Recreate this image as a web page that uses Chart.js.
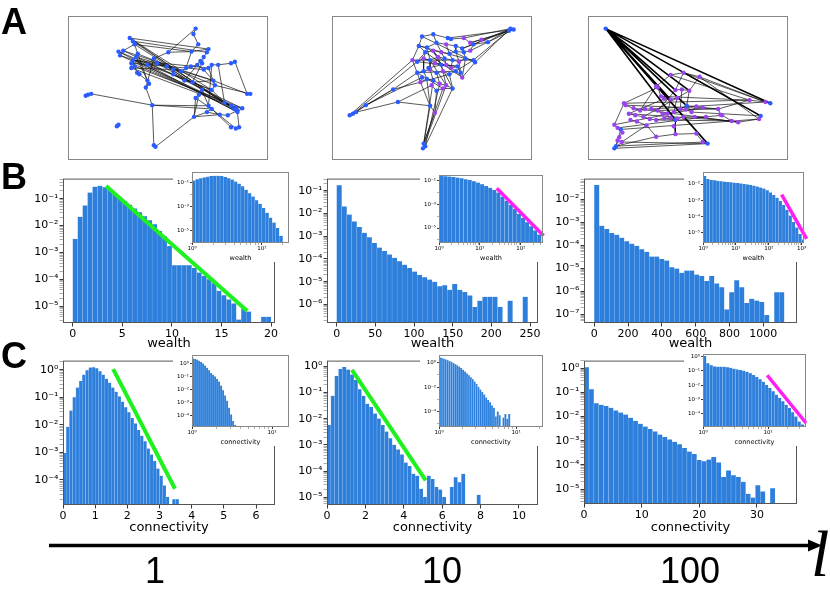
<!DOCTYPE html>
<html>
<head>
<meta charset="utf-8">
<script src="https://cdn.jsdelivr.net/npm/chart.js@4.4.0/dist/chart.umd.min.js"></script>
<style>
  body { margin: 0; width: 830px; height: 592px; background: #fff; position: relative; overflow: hidden; }
  canvas { position: absolute; z-index: 1; }
  canvas.inset { background: #fff; z-index: 2; }
  canvas.overlay { z-index: 3; }
  svg { position: absolute; left: 0; top: 0; z-index: 4; }
</style>
</head>
<body>
<svg width="830" height="592" viewBox="0 0 830 592">
  <g font-family="Liberation Sans, Arial, sans-serif" font-weight="bold" font-size="36">
    <text x="1" y="34">A</text>
    <text x="1" y="189">B</text>
    <text x="1" y="368">C</text>
  </g>
  <line x1="49" y1="545.5" x2="811" y2="545.5" stroke="#000" stroke-width="3.5"/>
  <polygon points="808,539.5 822,545.5 808,551.5" fill="#000"/>
  <g font-family="Liberation Sans, Arial, sans-serif" font-size="36" text-anchor="middle">
    <text x="155" y="583">1</text>
    <text x="442" y="583">10</text>
    <text x="690" y="583">100</text>
  </g>
  <text x="811" y="576" font-family="Liberation Serif, serif" font-style="italic" font-size="66">l</text>
</svg>
<script>
// ---- row B: wealth histograms (bin centres, log10 of frequency) ----
const b1Bins = [0.25, 0.75, 1.25, 1.75, 2.25, 2.75, 3.25, 3.75, 4.25, 4.75, 5.25, 5.75, 6.25, 6.75, 7.25, 7.75, 8.25, 8.75, 9.25, 9.75,
  10.25, 10.75, 11.25, 11.75, 12.25, 12.75, 13.25, 13.75, 14.25, 14.75, 15.25, 15.75, 16.25, 16.75, 17.25, 17.75, 18.25, 18.75, 19.25, 19.75];
const b1LogP = [-2.5, -1.67, -1.25, -0.77, -0.55, -0.52, -0.57, -0.66, -0.8, -0.94, -1.08, -1.22, -1.36, -1.5, -1.65, -1.8, -1.95, -2.2, -2.4, -2.76,
  -3.48, -3.48, -3.48, -3.48, -3.58, -3.75, -3.88, -4.0, -4.15, -4.43, -4.6, -4.75, -4.9, -5.5, -5.1, -5.2, null, null, -5.4, -5.4];
const b1FitX = [3.36, 17.6];
const b1FitLogY = [-0.53, -5.18];
const b1XTicks = [0, 5, 10, 15, 20];
const b1YExp = [-5, -4, -3, -2, -1];

const b2Bins = [3.25, 9.75, 16.25, 22.75, 29.25, 35.75, 42.25, 48.75, 55.25, 61.75, 68.25, 74.75, 81.25, 87.75, 94.25, 100.75, 107.25, 113.75, 120.25, 126.75,
  133.25, 139.75, 146.25, 152.75, 159.25, 165.75, 172.25, 178.75, 185.25, 191.75, 198.25, 204.75, 211.25, 217.75, 224.25, 230.75, 237.25, 243.75, 250.25];
const b2LogP = [-0.76, -1.69, -2.05, -2.35, -2.6, -2.85, -3.05, -3.3, -3.5, -3.65, -3.8, -3.95, -4.1, -4.25, -4.4, -4.55, -4.7, -4.8, -4.9, -5.0,
  -5.2, -5.15, -5.35, -5.1, -5.35, -5.45, -5.6, -6.11, -5.83, -5.66, -5.66, -5.66, -6.11, null, -5.83, null, null, -5.66, null];
const b2XTicks = [0, 50, 100, 150, 200, 250];
const b2YExp = [-6, -5, -4, -3, -2, -1];

const b3Bins = [14.8, 44.4, 74, 103.6, 133.2, 162.8, 192.4, 222, 251.6, 281.2, 310.8, 340.4, 370, 399.6, 429.2, 458.8, 488.4, 518, 547.6,
  577.2, 606.8, 636.4, 666, 695.6, 725.2, 754.8, 784.4, 814, 843.6, 873.2, 902.8, 932.4, 962, 991.6, 1021.2, 1050.8, 1080.4, 1110];
const b3LogP = [-1.39, -3.16, -3.3, -3.48, -3.55, -3.68, -3.84, -3.94, -4.03, -4.18, -4.29, -4.5, -4.5, -4.61, -4.67, -4.97, -5.02, -5.21, -5.11,
  -5.11, -5.28, -5.35, -5.56, -5.35, -5.67, -5.84, -6.8, -6.05, -5.53, -5.84, -6.52, -6.34, -6.41, -6.48, -7.04, null, -6.05, -6.05];
const b3XTicks = [0, 200, 400, 600, 800, 1000];
const b3YExp = [-7, -6, -5, -4, -3, -2];

// insets of row B (log10 of bin centre, log10 of frequency)
const b1InLogX = [0.025, 0.075, 0.125, 0.175, 0.225, 0.275, 0.325, 0.375, 0.425, 0.475, 0.525, 0.575, 0.625,
  0.675, 0.725, 0.775, 0.825, 0.875, 0.925, 0.975, 1.025, 1.075, 1.125, 1.175, 1.225, 1.275];
const b1InLogP = [-0.82, -0.72, -0.63, -0.56, -0.5, -0.45, -0.42, -0.42, -0.45, -0.52, -0.62, -0.74, -0.9,
  -1.08, -1.3, -1.58, -1.88, -2.15, -2.45, -2.75, -3.1, -3.5, -3.9, -4.3, -4.75, -5.4];
const b1InXExp = [0, 1];
const b1InYExp = [-5, -3, -1];

const b2InLogX = [0.05, 0.15, 0.25, 0.35, 0.45, 0.55, 0.65, 0.75, 0.85, 0.95, 1.05, 1.15, 1.25,
  1.35, 1.45, 1.55, 1.65, 1.75, 1.85, 1.95, 2.05, 2.15, 2.25, 2.35, 2.45];
const b2InLogP = [-0.6, -0.62, -0.65, -0.69, -0.74, -0.8, -0.87, -0.95, -1.05, -1.15, -1.3, -1.45, -1.6,
  -1.78, -2.0, -2.35, -2.7, -3.05, -3.4, -3.8, -4.15, -4.5, -4.85, -5.2, -5.55];
const b2InFitLogX = [1.41, 2.555];
const b2InFitLogY = [-1.64, -5.65];
const b2InXExp = [0, 1, 2];
const b2InYExp = [-5, -3, -1];

const b3InLogX = [0.05, 0.15, 0.25, 0.35, 0.45, 0.55, 0.65, 0.75, 0.85, 0.95, 1.05, 1.15, 1.25, 1.35, 1.45, 1.55,
  1.65, 1.75, 1.85, 1.95, 2.05, 2.15, 2.25, 2.35, 2.45, 2.55, 2.65, 2.75, 2.85, 2.95, 3.05];
const b3InLogP = [-1.5, -1.68, -1.74, -1.77, -1.8, -1.83, -1.85, -1.87, -1.89, -1.91, -1.93, -1.96, -1.99, -2.02, -2.06, -2.1,
  -2.15, -2.21, -2.28, -2.38, -2.52, -2.68, -2.85, -3.05, -3.3, -3.6, -3.95, -4.35, -4.7, -5.1, -5.45];
const b3InFitLogX = [2.39, 3.15];
const b3InFitLogY = [-2.66, -5.41];
const b3InXExp = [0, 1, 2, 3];
const b3InYExp = [-5, -4, -3, -2];

// ---- row C: connectivity histograms ----
const c1Bins = [0.05, 0.15, 0.25, 0.35, 0.45, 0.55, 0.65, 0.75, 0.85, 0.95, 1.05, 1.15, 1.25, 1.35, 1.45, 1.55, 1.65, 1.75,
  1.85, 1.95, 2.05, 2.15, 2.25, 2.35, 2.45, 2.55, 2.65, 2.75, 2.85, 2.95, 3.05, 3.15, 3.25, 3.35, 3.45, 3.55];
const c1LogP = [-3.02, -2.07, -1.48, -1.0, -0.65, -0.41, -0.18, -0.02, 0.08, 0.09, 0.05, -0.06, -0.18, -0.33, -0.47, -0.65, -0.8, -0.97,
  -1.16, -1.36, -1.54, -1.75, -1.95, -2.19, -2.4, -2.6, -2.86, -3.08, -3.31, -3.59, -3.85, -4.2, -4.62, null, -4.7, -4.7];
const c1FitX = [1.56, 3.48];
const c1FitLogY = [0.02, -4.32];
const c1XTicks = [0, 1, 2, 3, 4, 5, 6];
const c1YExp = [-4, -3, -2, -1, 0];

const c2Bins = [0.1, 0.3, 0.5, 0.7, 0.9, 1.1, 1.3, 1.5, 1.7, 1.9, 2.1, 2.3, 2.5, 2.7, 2.9, 3.1, 3.3, 3.5, 3.7, 3.9,
  4.1, 4.3, 4.5, 4.7, 4.9, 5.1, 5.3, 5.5, 5.7, 5.9, 6.1, 6.3, 6.5, 6.7, 6.9, 7.1, 7.3, 7.5, 7.7, 7.9];
const c2LogP = [-2.24, -1.12, -0.37, -0.1, -0.02, -0.12, -0.31, -0.52, -0.87, -1.12, -1.43, -1.55, -1.8, -1.99, -2.24, -2.49, -2.74, -2.99, -3.17, -3.36,
  -3.67, -3.8, -4.1, -4.17, -4.67, -4.98, -4.17, -4.3, -4.6, -4.7, -4.98, null, -4.6, -4.23, -4.42, -4.1, null, null, null, -4.9];
const c2FitX = [1.3, 5.14];
const c2FitLogY = [-0.13, -4.35];
const c2XTicks = [0, 2, 4, 6, 8, 10];
const c2YExp = [-5, -4, -3, -2, -1, 0];

const c3Bins = [0.425, 1.275, 2.125, 2.975, 3.825, 4.675, 5.525, 6.375, 7.225, 8.075, 8.925, 9.775, 10.625, 11.475, 12.325, 13.175, 14.025,
  14.875, 15.725, 16.575, 17.425, 18.275, 19.125, 19.975, 20.825, 21.675, 22.525, 23.375, 24.225, 25.075, 25.925, 26.775, 27.625,
  28.475, 29.325, 30.175, 31.025, 31.875, 32.725];
const c3LogP = [0.04, -0.87, -1.45, -1.52, -1.57, -1.64, -1.75, -1.84, -1.92, -2.05, -2.18, -2.3, -2.42, -2.52, -2.62, -2.75, -2.85,
  -2.95, -3.05, -3.15, -3.3, -3.45, -3.55, -3.8, -3.85, -3.78, -3.68, -3.9, -4.5, -4.23, -4.43, -4.5, -4.7,
  -5.2, -5.35, -4.84, -5.1, null, -4.97];
const c3XTicks = [0, 10, 20, 30];
const c3YExp = [-5, -4, -3, -2, -1, 0];

const c1InLogX = [0.0125, 0.0375, 0.0625, 0.0875, 0.1125, 0.1375, 0.1625, 0.1875, 0.2125, 0.2375, 0.2625,
  0.2875, 0.3125, 0.3375, 0.3625, 0.3875, 0.4125, 0.4375, 0.4625, 0.4875, 0.5125, 0.5375];
const c1InLogP = [0.37, 0.33, 0.28, 0.2, 0.1, -0.02, -0.17, -0.34, -0.53, -0.74, -0.87,
  -1.0, -1.2, -1.4, -1.7, -2.05, -2.45, -2.85, -3.4, -3.9, -4.4, -4.7];
const c1InXExp = [0, 1];
const c1InYExp = [-4, -3, -2, -1, 0];

const c2InLogX = [0.0125, 0.0375, 0.0625, 0.0875, 0.1125, 0.1375, 0.1625, 0.1875, 0.2125, 0.2375, 0.2625, 0.2875, 0.3125,
  0.3375, 0.3625, 0.3875, 0.4125, 0.4375, 0.4625, 0.4875, 0.5125, 0.5375, 0.5625, 0.5875, 0.6125, 0.6375, 0.6625,
  0.6875, 0.7125, 0.7375, 0.7625, 0.7875, 0.8125, 0.8375, 0.8625, 0.8875, 0.9125];
const c2InLogP = [0.43, 0.38, 0.33, 0.27, 0.2, 0.13, 0.05, -0.03, -0.12, -0.21, -0.31, -0.43, -0.57,
  -0.72, -0.88, -1.03, -1.19, -1.36, -1.55, -1.75, -1.97, -2.2, -2.4, -2.6, -2.85, -3.05, -3.25,
  -3.5, -3.7, -4.4, -4.0, -4.3, null, -4.5, -4.2, -4.6, -4.2];
const c2InXExp = [0, 1];
const c2InYExp = [-4, -2, 0];

const c3InLogX = [0.025, 0.075, 0.125, 0.175, 0.225, 0.275, 0.325, 0.375, 0.425, 0.475, 0.525, 0.575, 0.625, 0.675, 0.725, 0.775,
  0.825, 0.875, 0.925, 0.975, 1.025, 1.075, 1.125, 1.175, 1.225, 1.275, 1.325, 1.375, 1.425, 1.475, 1.525];
const c3InLogP = [0.05, -0.45, -0.6, -0.68, -0.7, -0.7, -0.71, -0.74, -0.78, -0.84, -0.89, -0.93, -0.98, -1.06, -1.16, -1.28,
  -1.42, -1.58, -1.76, -1.98, -2.2, -2.43, -2.66, -2.9, -3.13, -3.37, -3.6, -3.9, -4.2, -4.55, -4.75];
const c3InFitLogX = [0.985, 1.58];
const c3InFitLogY = [-1.3, -4.65];
const c3InXExp = [0, 1];
const c3InYExp = [-4, -3, -2, -1, 0];

// ---- row A: networks (layout coordinates and edges) ----
const a1X = [590, 583, 598, 385, 395, 400, 350, 355, 365, 410, 405, 505, 577, 630, 625, 615, 610, 605, 460, 390, 395, 400, 390, 440, 470,
  500, 520, 545, 560, 575, 595, 615, 630, 640, 660, 700, 712, 408, 415, 440, 445, 435, 520, 555, 580, 645, 650, 640, 610, 600, 590,
  750, 760, 255, 265, 455, 630, 640, 625, 680, 700, 710, 720, 735, 715, 665, 690, 585, 350, 345, 700, 715, 725, 460, 465, 720, 248];
const a1Y = [75, 92, 125, 105, 115, 125, 148, 160, 145, 155, 165, 150, 148, 140, 150, 165, 185, 178, 170, 185, 175, 195, 200, 190, 185,
  195, 205, 210, 200, 195, 190, 205, 200, 190, 190, 185, 180, 215, 220, 240, 250, 262, 220, 240, 245, 240, 255, 270, 270, 285, 295,
  282, 282, 285, 282, 318, 320, 330, 340, 310, 320, 330, 340, 328, 325, 348, 350, 355, 380, 385, 388, 392, 388, 445, 450, 335, 288];
const a1Edges = [[3, 62], [4, 61], [5, 60], [8, 63], [20, 59], [19, 64], [10, 45], [9, 46], [6, 47], [23, 62], [24, 60], [18, 61],
  [3, 4], [4, 5], [5, 9], [9, 10], [6, 7], [7, 8], [8, 5], [3, 13], [4, 14], [5, 12], [12, 2], [2, 1], [1, 0], [0, 11], [11, 18], [11, 12],
  [12, 13], [13, 14], [14, 15], [15, 16], [16, 17], [17, 30], [30, 31], [31, 32], [32, 33], [33, 34], [34, 35], [35, 36], [12, 28], [28, 29], [29, 30],
  [19, 20], [20, 21], [21, 22], [22, 19], [21, 37], [37, 38], [38, 39], [39, 40], [40, 41], [23, 24], [24, 25], [25, 26], [26, 27], [27, 28],
  [26, 42], [42, 43], [43, 44], [44, 45], [45, 46], [46, 47], [47, 48], [48, 49], [49, 50], [50, 57], [41, 18], [18, 23], [9, 39], [10, 40],
  [20, 25], [22, 26], [7, 23], [31, 45], [32, 46], [33, 56], [34, 59], [45, 51], [46, 52], [47, 59], [48, 56], [56, 57], [57, 58], [58, 65],
  [59, 60], [60, 61], [61, 62], [62, 63], [63, 64], [64, 59], [65, 66], [66, 75], [75, 62], [56, 70], [57, 71], [62, 72], [16, 44], [17, 43],
  [36, 51], [54, 55], [53, 54], [76, 53], [55, 56], [55, 57], [55, 73], [73, 74], [74, 67], [67, 50], [67, 49], [67, 65], [41, 55], [58, 67],
  [6, 62], [7, 61], [21, 63], [22, 60], [3, 47], [8, 45], [19, 31], [20, 32], [23, 47], [25, 48]];

const a2X = [670, 680, 665, 170, 180, 190, 220, 305, 320, 420, 435, 400, 405, 398, 395, 430, 475, 485, 525, 545, 580, 600,
  385, 410, 440, 470, 500, 520, 555, 405, 430, 455, 480, 500, 525, 545, 365, 380, 400, 420, 445, 465, 490, 510, 530, 555, 560,
  380, 400, 420, 440, 460, 480, 500, 520, 390, 410, 430, 450, 470, 490, 440, 460, 415, 470, 505, 425, 395, 455, 485, 435, 515];
const a2Y = [75, 78, 82, 350, 345, 340, 318, 268, 308, 320, 342, 440, 448, 455, 100, 93, 105, 108, 105, 120, 110, 118,
  130, 135, 120, 125, 130, 138, 125, 150, 145, 150, 155, 148, 150, 145, 175, 180, 170, 175, 165, 170, 175, 180, 170, 175, 182,
  215, 210, 205, 215, 210, 220, 210, 230, 245, 235, 240, 250, 255, 265, 272, 265, 200, 190, 195, 255, 230, 190, 200, 185, 215];
const a2Purple = [10, 18, 19, 20, 25, 30, 31, 35, 36, 38, 40, 43, 49, 51, 54, 55, 58, 59, 62, 64, 66, 69, 70];
const a2Edges = [[0, 21], [1, 20], [2, 19], [0, 28], [1, 35], [2, 27], [0, 18], [1, 16], [2, 45], [0, 46],
  [14, 15], [15, 16], [16, 17], [17, 18], [18, 19], [19, 20], [20, 21], [14, 22], [22, 29], [15, 24], [24, 25], [25, 26], [26, 27], [27, 28],
  [28, 21], [23, 24], [22, 23], [29, 30], [30, 31], [31, 32], [32, 33], [33, 34], [34, 35], [35, 28],
  [36, 37], [37, 38], [38, 39], [39, 40], [40, 41], [41, 42], [42, 43], [43, 44], [44, 45], [45, 46], [47, 48], [48, 49], [49, 50], [50, 51],
  [51, 52], [52, 53], [53, 54], [55, 56], [56, 57], [57, 58], [58, 59], [59, 60], [61, 62], [62, 60], [63, 68], [68, 64], [64, 65], [65, 71],
  [66, 61], [67, 55], [70, 68], [69, 65], [29, 38], [30, 40], [31, 41], [32, 42], [33, 43], [34, 44], [36, 47], [38, 48], [39, 49], [40, 51],
  [41, 64], [42, 69], [43, 71], [44, 54], [47, 55], [48, 56], [49, 57], [50, 58], [51, 59], [52, 60], [63, 49], [70, 40], [23, 39], [24, 31],
  [25, 32], [26, 33], [27, 34], [46, 54], [45, 53], [36, 22], [37, 29], [22, 44], [36, 45], [47, 53], [55, 52], [14, 46], [37, 65], [38, 69],
  [47, 62], [29, 54], [23, 53], [30, 60], [39, 59], [3, 4], [4, 5], [5, 6], [6, 7], [7, 47], [7, 55], [5, 8], [8, 9], [9, 55], [9, 56],
  [3, 36], [4, 37], [6, 67], [8, 66], [3, 7], [9, 10], [10, 11], [11, 12], [12, 13], [10, 61], [11, 57], [12, 58], [13, 59], [11, 62],
  [9, 13], [12, 60]];

const a3X = [128, 155, 160, 445, 640, 610, 380, 345, 175, 330, 370, 420, 285, 290, 345, 365, 388, 300, 310, 330, 350,
  185, 190, 215, 235, 250, 270, 290, 305, 320, 340, 360, 378, 395, 410, 430, 478, 485, 490, 520, 540, 575, 625, 605,
  155, 165, 180, 170, 165, 178, 200, 220, 245, 265, 285, 310, 330, 350, 370, 405, 440, 340, 255, 285, 345, 410, 430, 225, 205];
const a3Y = [75, 455, 448, 440, 312, 352, 320, 365, 395, 222, 215, 228, 258, 262, 270, 268, 272, 290, 298, 300, 295,
  312, 318, 328, 335, 330, 330, 335, 345, 345, 340, 330, 332, 340, 322, 325, 330, 348, 350, 368, 372, 302, 308, 362,
  380, 390, 405, 420, 430, 435, 345, 350, 355, 362, 365, 360, 358, 362, 355, 355, 355, 385, 382, 418, 410, 408, 435, 370, 365];
const a3Blue = [0, 1, 2, 3, 4, 5, 6, 7, 8];
const a3Edges = [[10, 42], [11, 42], [9, 41], [11, 43], [10, 5], [12, 13], [13, 17], [17, 18], [18, 19], [19, 20], [20, 16], [16, 15],
  [15, 14], [14, 10], [9, 10], [10, 11], [11, 16], [12, 9], [21, 22], [22, 23], [23, 24], [24, 25], [25, 26], [26, 27], [27, 28], [28, 29],
  [29, 30], [30, 31], [31, 32], [32, 33], [33, 34], [34, 35], [35, 36], [36, 37], [37, 38], [38, 39], [39, 40], [40, 43], [36, 41], [41, 42],
  [42, 4], [43, 5], [44, 45], [45, 46], [46, 47], [47, 48], [48, 49], [49, 1], [1, 2], [2, 8], [8, 46], [44, 21], [50, 51], [51, 52], [52, 53],
  [53, 54], [54, 55], [55, 56], [56, 57], [57, 58], [58, 59], [59, 60], [60, 38], [68, 67], [67, 62], [62, 63], [63, 64], [64, 65], [65, 66],
  [66, 3], [61, 64], [61, 57], [2, 63], [1, 3], [49, 62], [2, 66], [21, 41], [22, 36], [23, 40], [50, 39], [44, 35], [45, 60], [8, 43],
  [17, 41], [26, 42], [27, 36], [54, 39], [33, 5], [59, 40], [12, 24], [13, 21], [14, 27], [20, 52], [18, 50], [6, 31], [6, 33], [7, 57],
  [7, 55], [7, 64], [6, 34], [19, 29], [20, 30], [15, 31], [16, 32], [47, 2], [49, 3]];
const a3Thick = [[0, 5], [0, 4], [0, 3], [0, 19], [0, 6], [0, 7], [0, 14], [0, 16]];

// ---- styling ----
const BLUE = '#2a5cff';
const PURPLE = '#9a44f0';
const BAR = '#2d7fdb';
const BAR_EDGE = 'rgba(125,178,236,0.9)';
const GREEN = '#1ff01f';
const MAGENTA = '#ff1ff0';
const CLEAR = 'rgba(0,0,0,0)';
Chart.defaults.font.family = "'DejaVu Sans', sans-serif";

const SUP = { '-': '⁻', 0: '⁰', 1: '¹', 2: '²', 3: '³', 4: '⁴', 5: '⁵', 6: '⁶', 7: '⁷', 8: '⁸', 9: '⁹' };
const powLabel = (e) => '10' + String(e).split('').map((c) => SUP[c]).join('');
const pow10 = (v) => (v === null ? null : Math.pow(10, v));

// box round the plotting area, like matplotlib spines
const framePlugin = {
  id: 'frame',
  afterDraw: (chart, args, opts) => {
    if (opts.hide) return;
    const { ctx, chartArea: a } = chart;
    ctx.save();
    ctx.strokeStyle = opts.color || '#444';
    ctx.lineWidth = 1;
    ctx.strokeRect(a.left + 0.5, a.top + 0.5, a.right - a.left - 1, a.bottom - a.top - 1);
    ctx.restore();
  },
};

const logTicks = (lo, hi, exps, minors) => {
  const out = [];
  for (let d = Math.floor(lo); d <= Math.ceil(hi); d++) {
    for (let k = 1; k <= (minors ? 9 : 1); k++) {
      const lv = d + Math.log10(k);
      if (lv < lo || lv > hi) continue;
      out.push({ value: k * Math.pow(10, d), major: k === 1 && exps.includes(d) });
    }
  }
  return out;
};

const tickGrid = (len, hidden) => ({
  drawOnChartArea: false,
  drawTicks: true,
  offset: false,
  tickLength: len,
  tickColor: (c) => (hidden ? CLEAR : c.tick && c.tick.major ? '#222' : '#777'),
  tickWidth: (c) => (c.tick && c.tick.major ? 0.9 : 0.6),
});

const addCanvas = (area, m, cls) => {
  const [ax, ay, aw, ah] = area;
  const canvas = document.createElement('canvas');
  canvas.width = aw + m.l + m.r;
  canvas.height = ah + m.t + m.b;
  canvas.style.left = `${ax - m.l}px`;
  canvas.style.top = `${ay - m.t}px`;
  if (cls) canvas.className = cls;
  document.body.appendChild(canvas);
  return canvas;
};

// mode: 'bars' draws the histogram, 'fit' draws only the fitted line on a
// transparent copy of the same axes, so it can sit above the insets
const drawHist = (p, mode) => {
  const m = p.inset ? { l: 19, t: 5, r: 6, b: 19 } : { l: 45, t: 4, r: 10, b: p.b };
  const fitOnly = mode === 'fit';
  const canvas = addCanvas(p.area, m, fitOnly ? 'overlay' : p.inset ? 'inset' : '');
  const toX = p.logX ? pow10 : (v) => v;
  const ink = fitOnly ? CLEAR : '#000';

  const datasets = [];
  if (!fitOnly) {
    datasets.push({
      type: 'bar',
      data: p.bins.map((b, i) => ({ x: toX(b), y: pow10(p.logP[i]) })),
      backgroundColor: BAR,
      borderColor: BAR_EDGE,
      borderWidth: { left: 0.6, top: 0, right: 0, bottom: 0 },
      borderSkipped: false,
      barThickness: 'flex',
      barPercentage: 1,
      categoryPercentage: 1,
      order: 2,
    });
  }
  if (p.fitX && (fitOnly || p.inset)) {
    datasets.push({
      type: 'line',
      data: p.fitX.map((x, i) => ({ x: toX(x), y: pow10(p.fitY[i]) })),
      borderColor: p.fitColor,
      borderWidth: p.inset ? 3.5 : 4,
      borderCapStyle: 'butt',
      pointRadius: 0,
      clip: false,
      order: 1,
    });
  }

  return new Chart(canvas, {
    type: 'bar',
    data: { datasets },
    plugins: [framePlugin],
    options: {
      animation: false,
      responsive: false,
      events: [],
      layout: { padding: { top: m.t, right: m.r, left: 0, bottom: 0 } },
      plugins: {
        legend: { display: false },
        tooltip: { enabled: false },
        frame: { color: p.inset ? '#888' : '#555', hide: fitOnly },
      },
      scales: {
        x: {
          type: p.logX ? 'logarithmic' : 'linear',
          min: toX(p.xRange[0]),
          max: toX(p.xRange[1]),
          offset: false,
          afterBuildTicks: (s) => {
            s.ticks = p.logX
              ? logTicks(p.xRange[0], p.xRange[1], p.xTicks, true)
              : p.xTicks.map((v) => ({ value: v, major: true }));
          },
          afterFit: (s) => { s.height = m.b; },
          border: { display: false },
          grid: tickGrid(p.inset ? 2 : 3.5, fitOnly),
          ticks: {
            autoSkip: false, maxRotation: 0, minRotation: 0, padding: p.inset ? 0 : 1, color: ink,
            font: { size: p.inset ? 5.5 : 11 },
            callback: (v, i, t) => (t[i].major ? (p.logX ? powLabel(Math.round(Math.log10(v))) : String(v)) : ''),
          },
          title: { display: true, text: p.title, color: ink, padding: 0, font: { size: p.inset ? 6.5 : 13 } },
        },
        y: {
          type: 'logarithmic',
          min: pow10(p.yRange[0]),
          max: pow10(p.yRange[1]),
          afterBuildTicks: (s) => { s.ticks = logTicks(p.yRange[0], p.yRange[1], p.yExp, !p.inset); },
          afterFit: (s) => { s.width = m.l; },
          border: { display: false },
          grid: tickGrid(p.inset ? 2 : 3.5, fitOnly),
          ticks: {
            autoSkip: false, padding: 1, color: ink,
            font: { size: p.inset ? 5.5 : 11 },
            callback: (v, i, t) => (t[i].major ? powLabel(Math.round(Math.log10(v))) : ''),
          },
        },
      },
    },
  });
};

const edgeData = (xs, ys, edges) => {
  const out = [];
  edges.forEach(([a, b]) => {
    out.push({ x: xs[a], y: ys[a] }, { x: xs[b], y: ys[b] }, { x: xs[b], y: null });
  });
  return out;
};

const drawNet = (area, range, xs, ys, colors, edges, thick) => {
  const canvas = addCanvas(area, { l: 0, t: 0, r: 0, b: 0 }, '');
  const datasets = [
    { data: edgeData(xs, ys, edges), showLine: true, spanGaps: false, borderColor: '#111', borderWidth: 0.7, pointRadius: 0, order: 3 },
    {
      data: xs.map((x, i) => ({ x, y: ys[i] })),
      pointRadius: 2.2,
      pointBackgroundColor: colors,
      pointBorderWidth: 0,
      order: 1,
    },
  ];
  if (thick) {
    datasets.push({ data: edgeData(xs, ys, thick), showLine: true, spanGaps: false, borderColor: '#000', borderWidth: 1.6, pointRadius: 0, order: 2 });
  }
  return new Chart(canvas, {
    type: 'scatter',
    data: { datasets },
    plugins: [framePlugin],
    options: {
      animation: false,
      responsive: false,
      events: [],
      layout: { padding: 0 },
      plugins: { legend: { display: false }, tooltip: { enabled: false }, frame: { color: '#888' } },
      scales: {
        x: { display: false, min: range[0], max: range[1] },
        y: { display: false, min: range[2], max: range[3], reverse: true },
      },
    },
  });
};

const main = () => {
  drawNet([64, 12, 208, 152], [193, 815, 35, 492], a1X, a1Y, a1X.map(() => BLUE), a1Edges);
  drawNet([328, 12, 208, 152], [115, 737, 35, 492], a2X, a2Y, a2X.map((x, i) => (a2Purple.includes(i) ? PURPLE : BLUE)), a2Edges);
  drawNet([584, 12, 208, 152], [73, 695, 35, 492], a3X, a3Y, a3X.map((x, i) => (a3Blue.includes(i) ? BLUE : PURPLE)), a3Edges, a3Thick);

  const mains = [
    { area: [63, 175, 212, 148], xRange: [-0.98, 20.4], xTicks: b1XTicks, yRange: [-5.63, -0.25], yExp: b1YExp,
      bins: b1Bins, logP: b1LogP, fitX: b1FitX, fitY: b1FitLogY, fitColor: GREEN, title: 'wealth', b: 28 },
    { area: [327, 175, 211, 148], xRange: [-12.5, 260.3], xTicks: b2XTicks, yRange: [-6.81, -0.47], yExp: b2YExp,
      bins: b2Bins, logP: b2LogP, title: 'wealth', b: 28 },
    { area: [584, 175, 213, 148], xRange: [-61, 1200], xTicks: b3XTicks, yRange: [-7.39, -1.11], yExp: b3YExp,
      bins: b3Bins, logP: b3LogP, title: 'wealth', b: 28 },
    { area: [63, 357, 212, 148], xRange: [0, 6.59], xTicks: c1XTicks, yRange: [-4.91, 0.33], yExp: c1YExp,
      bins: c1Bins, logP: c1LogP, fitX: c1FitX, fitY: c1FitLogY, fitColor: GREEN, title: 'connectivity', b: 30 },
    { area: [327, 357, 211, 148], xRange: [0, 10.99], xTicks: c2XTicks, yRange: [-5.29, 0.22], yExp: c2YExp,
      bins: c2Bins, logP: c2LogP, fitX: c2FitX, fitY: c2FitLogY, fitColor: GREEN, title: 'connectivity', b: 30 },
    { area: [584, 357, 213, 147], xRange: [0, 36.96], xTicks: c3XTicks, yRange: [-5.62, 0.31], yExp: c3YExp,
      bins: c3Bins, logP: c3LogP, title: 'connectivity', b: 31 },
  ];
  const insets = [
    { area: [192, 172, 97, 71], xRange: [0, 1.39], xTicks: b1InXExp, yRange: [-6.0, -0.11], yExp: b1InYExp,
      bins: b1InLogX, logP: b1InLogP, title: 'wealth' },
    { area: [439, 175, 104, 68], xRange: [0, 2.54], xTicks: b2InXExp, yRange: [-6.26, -0.52], yExp: b2InYExp,
      bins: b2InLogX, logP: b2InLogP, fitX: b2InFitLogX, fitY: b2InFitLogY, fitColor: MAGENTA, title: 'wealth' },
    { area: [703, 172, 101, 71], xRange: [0, 3.07], xTicks: b3InXExp, yRange: [-5.66, -1.25], yExp: b3InYExp,
      bins: b3InLogX, logP: b3InLogP, fitX: b3InFitLogX, fitY: b3InFitLogY, fitColor: MAGENTA, title: 'wealth' },
    { area: [192, 355, 97, 72], xRange: [0, 1.21], xTicks: c1InXExp, yRange: [-4.86, 0.63], yExp: c1InYExp,
      bins: c1InLogX, logP: c1InLogP, title: 'connectivity' },
    { area: [439, 355, 104, 72], xRange: [0, 1.35], xTicks: c2InXExp, yRange: [-5.27, 0.63], yExp: c2InYExp,
      bins: c2InLogX, logP: c2InLogP, title: 'connectivity' },
    { area: [703, 354, 103, 73], xRange: [0, 1.58], xTicks: c3InXExp, yRange: [-4.93, 0.19], yExp: c3InYExp,
      bins: c3InLogX, logP: c3InLogP, fitX: c3InFitLogX, fitY: c3InFitLogY, fitColor: MAGENTA, title: 'connectivity' },
  ];
  mains.forEach((p) => drawHist(p, 'bars'));
  insets.forEach((p) => drawHist({ ...p, inset: true, logX: true }, 'bars'));
  mains.filter((p) => p.fitX).forEach((p) => drawHist(p, 'fit'));
};

main();
</script>
</body>
</html>
